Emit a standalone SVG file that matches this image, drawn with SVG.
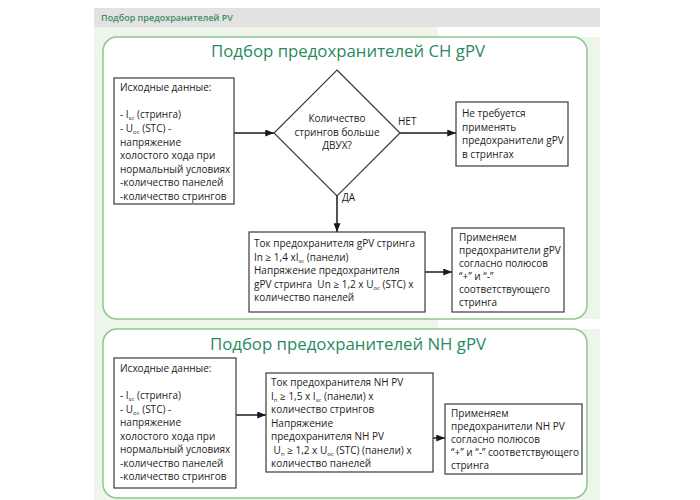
<svg xmlns="http://www.w3.org/2000/svg" width="700" height="500" viewBox="0 0 700 500">
<defs>
<marker id="ah" viewBox="0 0 10 8" refX="10" refY="4" markerWidth="9" markerHeight="7" markerUnits="userSpaceOnUse" orient="auto"><path d="M0,0 L10,4 L0,8 z" fill="#1a1a1a"/></marker>
<style>
.box{fill:#fff;stroke:#3a3a3a;stroke-width:1.2}
.panel{fill:#fff;stroke:#8cc98c;stroke-width:1.5}
.t{font-family:"Open Sans","Noto Sans",sans-serif;font-size:10px;fill:#1c1c1c}
.c{text-anchor:middle}
.title{font-family:"Open Sans","Noto Sans",sans-serif;font-size:16.8px;fill:#2a8a5e;text-anchor:middle}
.hdr{font-family:"Open Sans","Noto Sans",sans-serif;font-size:9px;font-weight:600;fill:#3d8f5f}
.sub{font-size:6px}
.conn line{stroke:#1a1a1a;stroke-width:1.5;marker-end:url(#ah)}
</style>
</defs>
<rect x="0" y="0" width="700" height="500" fill="#fff"/>
<rect x="94" y="8" width="506" height="19" fill="#e1e2e1"/>
<text class="hdr" x="101" y="21">Подбор предохранителей PV</text>
<rect x="94" y="27" width="506" height="473" fill="#eef5ea"/>
<rect x="438" y="27" width="162" height="10" fill="#fff"/>
<rect x="438" y="319" width="162" height="10" fill="#fff"/>

<g id="panel1">
<rect class="panel" x="103" y="37" width="484" height="282" rx="14"/>
<text class="title" x="348" y="57">Подбор предохранителей CH gPV</text>
</g>
<g id="panel2">
<rect class="panel" x="103" y="329" width="484" height="169" rx="14"/>
<text class="title" x="348" y="350">Подбор предохранителей NH gPV</text>
</g>

<g class="conn" id="connectors">
<line x1="234" y1="133" x2="274" y2="133"/>
<line x1="400" y1="133" x2="456" y2="133"/>
<line x1="337" y1="196" x2="337" y2="232"/>
<line x1="425" y1="272" x2="452" y2="272"/>
<line x1="236" y1="415" x2="266" y2="415"/>
<line x1="433" y1="438" x2="445" y2="438"/>
</g>
<text class="t" x="398" y="125">НЕТ</text>
<text class="t" x="342" y="201">ДА</text>

<g id="nodeA">
<rect class="box" x="114" y="78" width="120" height="126"/>
<text class="t" x="120" y="91">Исходные данные:</text>
<text class="t" x="120" y="118">- I<tspan class="sub" dy="2">sc</tspan><tspan dy="-2"> (стринга)</tspan></text>
<text class="t" x="120" y="132">- U<tspan class="sub" dy="2">oc</tspan><tspan dy="-2"> (STC) -</tspan></text>
<text class="t" x="120" y="145.5">напряжение</text>
<text class="t" x="120" y="159">холостого хода при</text>
<text class="t" x="120" y="172.5">нормальный условиях</text>
<text class="t" x="120" y="186">-количество панелей</text>
<text class="t" x="120" y="199.5">-количество стрингов</text>
</g>

<g id="nodeDiamond">
<polygon class="box" points="337,70 400,133 337,196 274,133"/>
<text class="t c" x="337" y="122">Количество</text>
<text class="t c" x="337" y="135.5">стрингов больше</text>
<text class="t c" x="337" y="149">ДВУХ?</text>
</g>

<g id="nodeB">
<rect class="box" x="456" y="102" width="112" height="64"/>
<text class="t" x="462" y="117">Не требуется</text>
<text class="t" x="462" y="130.5">применять</text>
<text class="t" x="462" y="144">предохранители gPV</text>
<text class="t" x="462" y="157.5">в стрингах</text>
</g>

<g id="nodeC">
<rect class="box" x="249" y="232" width="176" height="80"/>
<text class="t" x="254" y="247">Ток предохранителя gPV стринга</text>
<text class="t" x="254" y="260.5">In ≥ 1,4 xI<tspan class="sub" dy="2">sc</tspan><tspan dy="-2"> (панели)</tspan></text>
<text class="t" x="254" y="274">Напряжение предохранителя</text>
<text class="t" x="254" y="287.5">gPV стринга&#160; Un ≥ 1,2 x U<tspan class="sub" dy="2">oc</tspan><tspan dy="-2"> (STC) x</tspan></text>
<text class="t" x="254" y="301">количество панелей</text>
</g>

<g id="nodeD">
<rect class="box" x="452" y="228" width="112" height="84"/>
<text class="t" x="459" y="241">Применяем</text>
<text class="t" x="459" y="254">предохранители gPV</text>
<text class="t" x="459" y="267">согласно полюсов</text>
<text class="t" x="459" y="280">“+” и “-”</text>
<text class="t" x="459" y="293">соответствующего</text>
<text class="t" x="459" y="306">стринга</text>
</g>

<g id="nodeE">
<rect class="box" x="114" y="358" width="122" height="130"/>
<text class="t" x="120" y="372">Исходные данные:</text>
<text class="t" x="120" y="399">- I<tspan class="sub" dy="2">sc</tspan><tspan dy="-2"> (стринга)</tspan></text>
<text class="t" x="120" y="412.5">- U<tspan class="sub" dy="2">oc</tspan><tspan dy="-2"> (STC) -</tspan></text>
<text class="t" x="120" y="426">напряжение</text>
<text class="t" x="120" y="439.5">холостого хода при</text>
<text class="t" x="120" y="453">нормальный условиях</text>
<text class="t" x="120" y="466.5">-количество панелей</text>
<text class="t" x="120" y="480">-количество стрингов</text>
</g>

<g id="nodeF">
<rect class="box" x="266" y="373" width="167" height="99"/>
<text class="t" x="271" y="386">Ток предохранителя NH PV</text>
<text class="t" x="271" y="399.5">I<tspan class="sub" dy="2">n</tspan><tspan dy="-2"> ≥ 1,5 x I</tspan><tspan class="sub" dy="2">sc</tspan><tspan dy="-2"> (панели) x</tspan></text>
<text class="t" x="271" y="413">количество стрингов</text>
<text class="t" x="271" y="426.5">Напряжение</text>
<text class="t" x="271" y="440">предохранителя NH PV</text>
<text class="t" x="271" y="453.5">&#160;U<tspan class="sub" dy="2">n</tspan><tspan dy="-2"> ≥ 1,2 x U</tspan><tspan class="sub" dy="2">oc</tspan><tspan dy="-2"> (STC) (панели) x</tspan></text>
<text class="t" x="271" y="467">количество панелей</text>
</g>

<g id="nodeG">
<rect class="box" x="445" y="404" width="137" height="70"/>
<text class="t" x="451" y="417">Применяем</text>
<text class="t" x="451" y="430">предохранители NH PV</text>
<text class="t" x="451" y="443">согласно полюсов</text>
<text class="t" x="451" y="456">“+” и “-” соответствующего</text>
<text class="t" x="451" y="469">стринга</text>
</g>
</svg>
